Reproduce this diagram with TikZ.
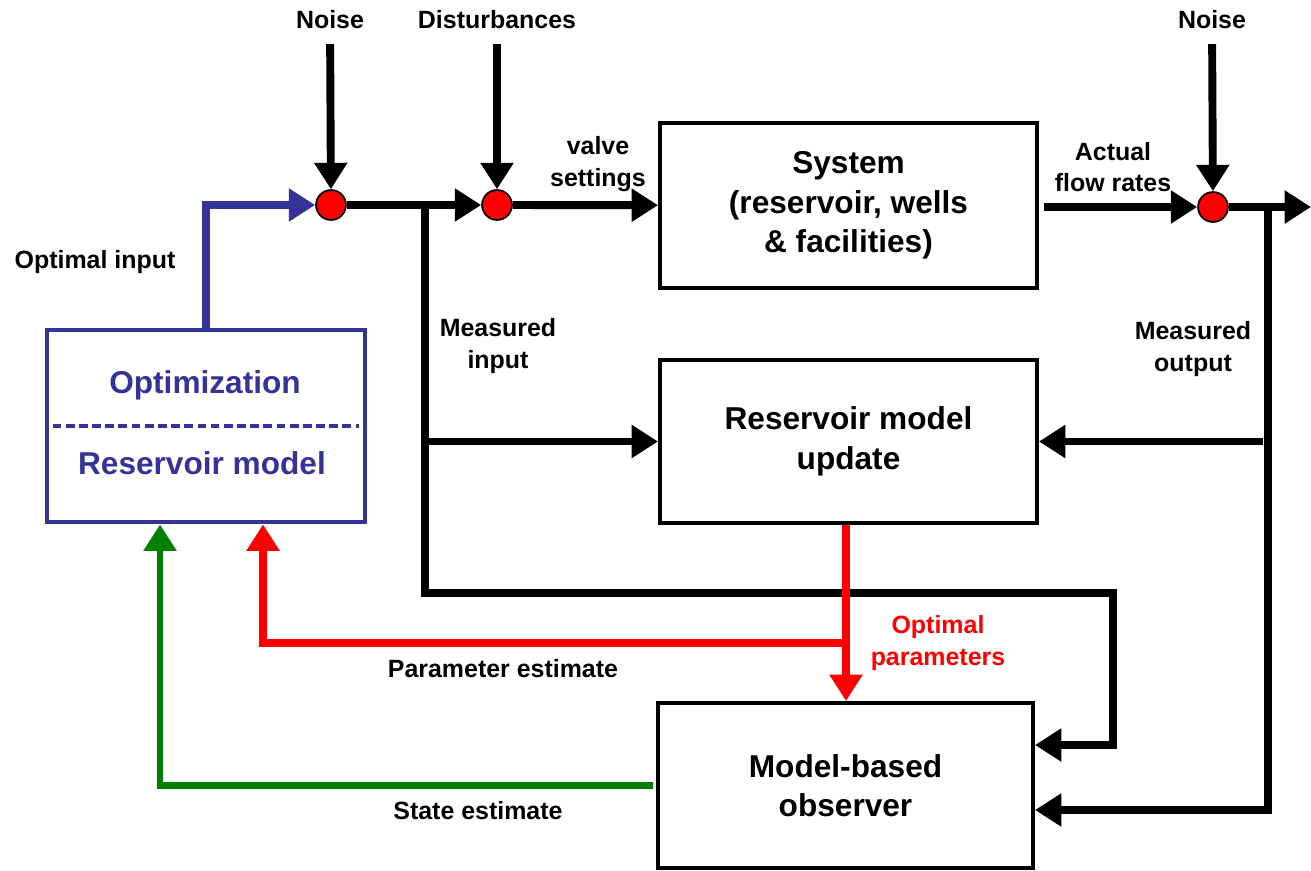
\documentclass[tikz,border=0pt]{standalone}
\usepackage{fontspec}
\setmainfont{Liberation Sans}
\usepackage{tikz}
\usetikzlibrary{arrows.meta,positioning}
\usepackage{xcolor}
\definecolor{optblue}{RGB}{51,51,153}
\definecolor{estgreen}{RGB}{0,128,0}
\tikzset{
  flow/.style={line width=4.5pt, -{Triangle[length=15pt,width=18pt]}},
  block/.style={draw, line width=2.3pt, minimum width=7.54cm, minimum height=3.3cm, align=center, font=\bfseries\fontsize{18}{22.5}\selectfont},
  junction/.style={circle, draw, fill=red, line width=1pt, minimum size=17pt, inner sep=0pt},
  tag/.style={align=center, font=\bfseries\fontsize{14.2}{18}\selectfont},
}

\begin{document}
\begin{tikzpicture}[x=0.02cm, y=-0.02cm]
    \useasboundingbox (0,0) rectangle (1311,871);
    \node[block] (sys) at (848.5,205.5) {System\\(reservoir, wells\\\& facilities)};
    \node[block, minimum height=3.26cm] (upd) at (848.5,441.5) {Reservoir model\\update};
    \node[block, minimum width=7.5cm] (obs) at (845.5,785.5) {Model-based\\observer};
    \node[draw=optblue, line width=2.8pt, minimum width=6.36cm, minimum height=3.84cm] (opt) at (206,426) {};
    \node[block, draw=none, text=optblue] (opttxt) at (205,385) {Optimization};
    \node[block, draw=none, text=optblue] (modtxt) at (202,463) {Reservoir model};
    \draw[optblue, line width=2pt, dash pattern=on 5pt off 2.5pt] ([xshift=0.16cm]opt.west) -- ([xshift=-0.16cm]opt.east);

    \node[junction] (s1) at (331,205) {};
    \node[junction] (s2) at (497,205) {};
    \node[junction] (s3) at (1213,207) {};

    \node[tag] (noise1) at (330,20) {Noise};
    \node[tag] (dist) at (497,20) {Disturbances};
    \node[tag] (noise2) at (1212,20) {Noise};
    \node[tag] (valve) at (598,164) {valve\\settings};
    \node[tag] (actual) at (1113,167) {Actual\\flow rates};
    \node[tag] (optin) at (95,262) {Optimal input};
    \node[tag] (minlbl) at (498,346) {Measured\\input};
    \node[tag] (moutlbl) at (1193,349) {Measured\\output};
    \node[tag, text=red] (optpar) at (938,643) {Optimal\\parameters};
    \node[tag] (parest) at (503,669) {Parameter estimate};
    \node[tag] (stest) at (478,811) {State estimate};

    \coordinate (jin) at (425,205);
    \coordinate (jout) at (1268,207);
    \coordinate (out) at (1311,207);
    \coordinate (mi) at (1113,593);
    \coordinate (rp) at (846,643);

    \draw[flow, shorten <=5pt] (noise1) -- (s1);
    \draw[flow, shorten <=5pt] (dist) -- (s2);
    \draw[flow, shorten <=5pt] (noise2) -- (s3);
    \draw[flow] (s1) -- (s2);
    \draw[flow] (s2) -- (sys);
    \draw[flow, shorten <=3pt] (sys.east |- s3) -- (s3);
    \draw[flow] (s3) -- (out);
    \draw[flow] (jin) |- (mi) |- ([yshift=0.81cm]obs.east);
    \draw[flow] (jin |- upd.west) -- (upd.west);
    \draw[flow] (jout) |- ([yshift=-0.49cm]obs.east);
    \draw[flow, shorten <=3pt] (jout |- upd.east) -- (upd.east);

    \draw[flow, red, line width=4pt] (rp |- upd.south) -- (rp |- obs.north);
    \draw[flow, red, line width=4pt] (rp) -| ([xshift=1.14cm]opt.south);
    \draw[flow, estgreen, line width=3.6pt, shorten <=2pt] (obs.west) -| ([xshift=-0.92cm]opt.south);
    \draw[flow, optblue, line width=4pt] (opt.north) |- (s1);
\end{tikzpicture}
\end{document}
